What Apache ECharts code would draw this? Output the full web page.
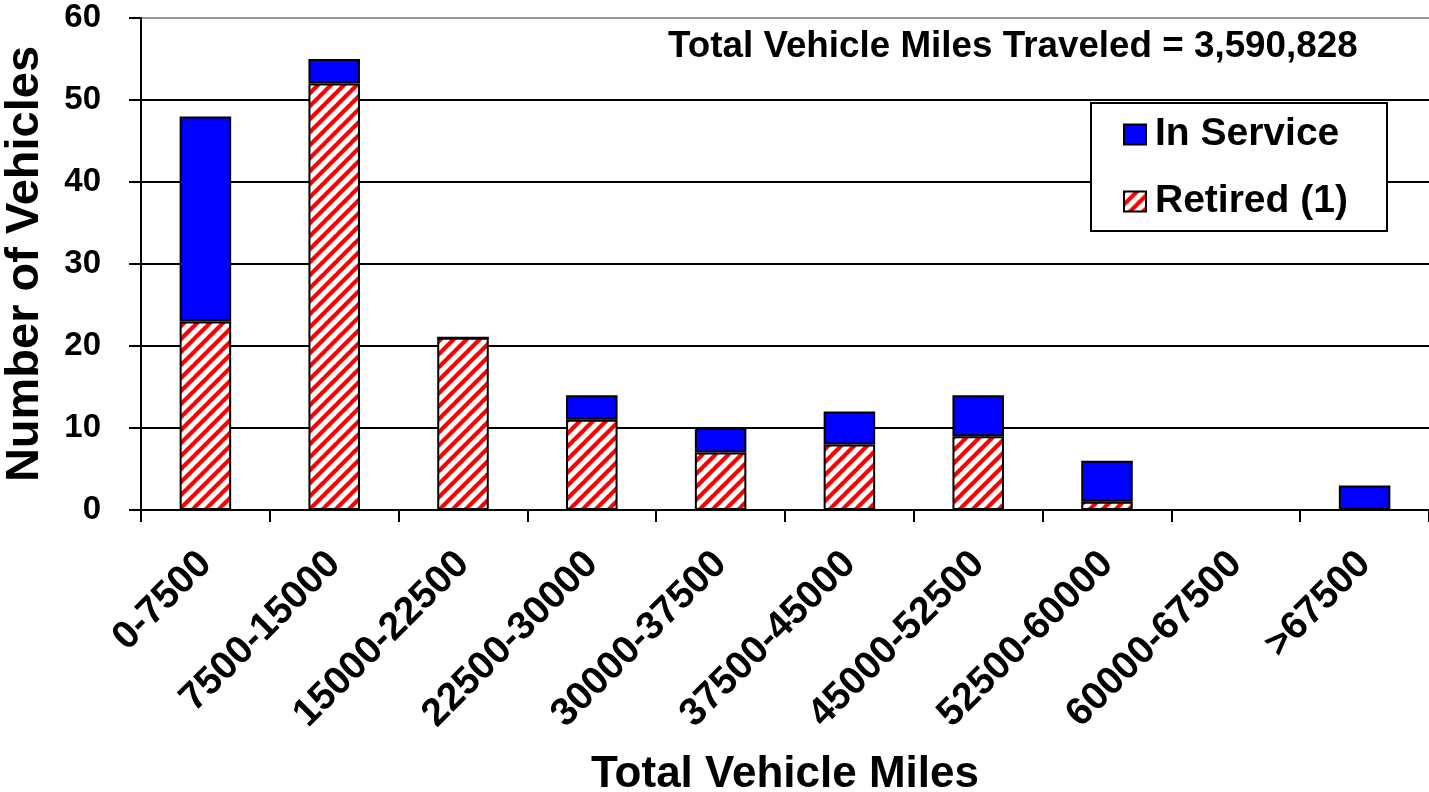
<!DOCTYPE html>
<html><head><meta charset="utf-8">
<script src="https://cdn.jsdelivr.net/npm/echarts@6/dist/echarts.min.js"></script>
<style>html,body{margin:0;padding:0;background:#fff}#c{width:1429px;height:792px}</style>
</head><body><div id="c"></div>
<script>
const categories = ['0-7500','7500-15000','15000-22500','22500-30000','30000-37500','37500-45000','45000-52500','52500-60000','60000-67500','>67500'];
const retired = [23, 52, 21, 11, 7, 8, 9, 1, 0, 0];
const inService = [25, 3, 0, 3, 3, 4, 5, 5, 0, 3];
const yTicks = [0, 10, 20, 30, 40, 50, 60];

function hatch() {
  const s = 13, c = document.createElement('canvas');
  c.width = s; c.height = s;
  const g = c.getContext('2d');
  g.fillStyle = '#fff'; g.fillRect(0, 0, s, s);
  g.strokeStyle = '#ff0000'; g.lineWidth = 4.2;
  g.beginPath();
  for (let k = -1; k <= 1; k++) {
    g.moveTo(k * s - 1, s + 1); g.lineTo(k * s + s + 1, -1);
  }
  g.stroke();
  return c;
}
const pat = { image: hatch(), repeat: 'repeat' };
const font = 'Liberation Sans, Arial, sans-serif';
const chart = echarts.init(document.getElementById('c'));
chart.setOption({
  animation: false,
  grid: { left: 141, right: 0, top: 18, bottom: 282, containLabel: false, outerBoundsMode: 'none' },
  xAxis: {
    type: 'category', data: categories,
    name: 'Total Vehicle Miles', nameLocation: 'middle', nameGap: 243,
    nameTextStyle: { fontFamily: font, fontWeight: 'bold', fontSize: 44, color: '#000' },
    axisLine: { lineStyle: { color: '#000', width: 2 } },
    axisTick: { show: true, length: 12, lineStyle: { color: '#000', width: 2 } },
    axisLabel: { rotate: 45, margin: 48, interval: 0, fontFamily: font, fontWeight: 'bold', fontSize: 39, color: '#000' }
  },
  yAxis: {
    type: 'value', min: 0, max: 60, interval: 10,
    name: 'Number of Vehicles', nameLocation: 'middle', nameGap: 92, nameRotate: 90,
    nameTextStyle: { fontFamily: font, fontWeight: 'bold', fontSize: 47, color: '#000' },
    axisLine: { show: true, lineStyle: { color: '#000', width: 2 } },
    axisTick: { show: true, length: 12, lineStyle: { color: '#000', width: 2 } },
    axisLabel: { margin: 40, fontFamily: font, fontWeight: 'bold', fontSize: 33, color: '#000',
      formatter: v => yTicks.includes(v) ? String(v) : '' },
    splitLine: { show: true, lineStyle: { color: ['#000','#000','#000','#000','#000','#000','#999'], width: 2 } }
  },
  legend: {
    orient: 'vertical', left: 1123, top: 115, z: 10,
    padding: 0, itemGap: 28, itemWidth: 22, itemHeight: 20,
    data: [{ name: 'In Service', icon: 'rect' }, { name: 'Retired (1)', icon: 'rect' }],
    textStyle: { fontFamily: font, fontWeight: 'bold', fontSize: 39, color: '#000', padding: [0, 0, 0, 4] }
  },
  graphic: [{
    type: 'rect', left: 1090, top: 102, z: 5,
    shape: { width: 296, height: 128 },
    style: { fill: '#fff', stroke: '#000', lineWidth: 2 }
  }, {
    type: 'text', left: 668, top: 28,
    style: { text: 'Total Vehicle Miles Traveled = 3,590,828', fontFamily: font, fontWeight: 'bold', fontSize: 36.8, fill: '#000' }
  }],
  series: [
    { name: 'Retired (1)', type: 'bar', stack: 't', data: retired, barWidth: '40%',
      itemStyle: { color: pat, borderColor: '#000', borderWidth: 2 } },
    { name: 'In Service', type: 'bar', stack: 't', data: inService, barWidth: '40%',
      itemStyle: { color: '#0000ff', borderColor: '#000', borderWidth: 2 } }
  ]
});
</script></body></html>
